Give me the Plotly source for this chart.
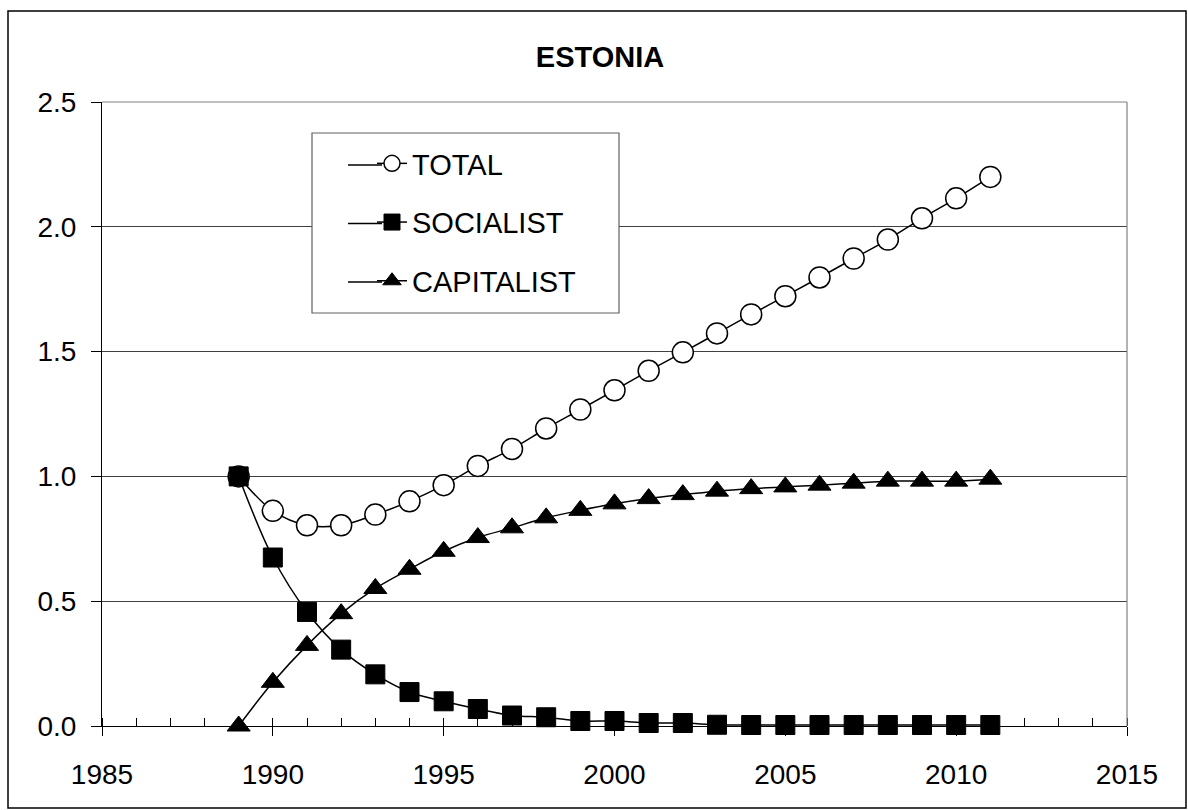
import plotly.graph_objects as go

years = list(range(1989, 2012))
total = [1.000, 0.862, 0.804, 0.804, 0.847, 0.900, 0.965, 1.042, 1.110, 1.192, 1.268, 1.345,
         1.423, 1.497, 1.573, 1.649, 1.722, 1.797, 1.873, 1.949, 2.034, 2.114, 2.200]
socialist = [1.000, 0.675, 0.457, 0.306, 0.207, 0.136, 0.099, 0.068, 0.042, 0.035, 0.020, 0.020,
             0.012, 0.012, 0.005, 0.004, 0.004, 0.004, 0.004, 0.004, 0.004, 0.004, 0.004]
capitalist = [0.000, 0.175, 0.323, 0.450, 0.551, 0.628, 0.700, 0.755, 0.794, 0.834, 0.864, 0.890,
              0.911, 0.927, 0.941, 0.951, 0.958, 0.965, 0.973, 0.981, 0.981, 0.981, 0.989]
x_ticks = [1985, 1990, 1995, 2000, 2005, 2010, 2015]
y_ticks = [0.0, 0.5, 1.0, 1.5, 2.0, 2.5]

W, H = 1188, 810
L, R, T, B = 102, 1127, 102, 726
FONT = "Liberation Sans, Arial, sans-serif"


def px_x(p):
    return (p - L) / (R - L)


def px_y(p):
    return (B - p) / (B - T)


fig = go.Figure()
line_style = dict(color="black", width=1.5, shape="spline", smoothing=1)
fig.add_trace(go.Scatter(
    x=years, y=total, name="TOTAL", mode="lines+markers", legendgroup="g1",
    line=line_style,
    marker=dict(symbol="circle", size=21, color="white", line=dict(color="black", width=1.5)),
    cliponaxis=False))
fig.add_trace(go.Scatter(
    x=years, y=socialist, name="SOCIALIST", mode="lines+markers", legendgroup="g2",
    line=line_style,
    marker=dict(symbol="square", size=19, color="black", line=dict(color="black", width=1)),
    cliponaxis=False))
fig.add_trace(go.Scatter(
    x=years, y=capitalist, name="CAPITALIST", mode="lines+markers", legendgroup="g3",
    line=line_style,
    marker=dict(symbol="triangle-up", size=20, color="black", line=dict(color="black", width=1)),
    cliponaxis=False))

shapes = [
    # outer chart border
    dict(type="rect", xref="paper", yref="paper", x0=px_x(8), x1=px_x(1186), y0=px_y(808), y1=px_y(11),
         line=dict(color="black", width=1.5), layer="below"),
    # plot area top and right border
    dict(type="line", xref="paper", yref="paper", x0=0, x1=1, y0=1, y1=1,
         line=dict(color="#808080", width=1.2), layer="above"),
    dict(type="line", xref="paper", yref="paper", x0=1, x1=1, y0=0, y1=1,
         line=dict(color="#808080", width=1.2), layer="above"),
    # legend box
    dict(type="rect", xref="paper", yref="paper", x0=px_x(312), x1=px_x(619), y0=px_y(313), y1=px_y(133),
         line=dict(color="#606060", width=1.2), fillcolor="white", layer="above"),
]
# longer legend key lines (left extension of the legend symbol line)
for ky in (165, 223.5, 282):
    shapes.append(dict(type="line", xref="paper", yref="paper", x0=px_x(348), x1=px_x(382),
                       y0=px_y(ky), y1=px_y(ky), line=dict(color="black", width=1.5), layer="above"))

fig.update_layout(
    width=W, height=H,
    margin=dict(l=L, r=W - R, t=T, b=H - B, pad=0),
    paper_bgcolor="white", plot_bgcolor="white",
    font=dict(family=FONT, color="black", size=28),
    title=dict(text="<b>ESTONIA</b>", xref="paper", x=px_x(600), xanchor="center",
               yref="container", y=1 - 56.5 / H, yanchor="middle",
               font=dict(family=FONT, size=29, color="black")),
    xaxis=dict(range=[1985, 2015], tickvals=x_ticks, ticktext=[str(v) for v in x_ticks],
               showgrid=False, zeroline=False, showline=True, linecolor="black", linewidth=1,
               ticks="outside", ticklen=9, tickcolor="black", tickwidth=1,
               tickfont=dict(family=FONT, size=28, color="black"), ticklabelstandoff=14,
               minor=dict(ticks="inside", ticklen=8, dtick=1, tick0=1985, tickcolor="black",
                          tickwidth=1, showgrid=False)),
    xaxis2=dict(range=[1985, 2015], overlaying="x", anchor="y", side="bottom",
                tickvals=x_ticks, showticklabels=False, ticks="inside", ticklen=9,
                tickcolor="black", tickwidth=1, showgrid=False, showline=False, zeroline=False),
    yaxis=dict(range=[0, 2.5], tickvals=y_ticks, tickformat=".1f",
               showgrid=True, gridcolor="#404040", gridwidth=1, zeroline=False,
               showline=True, linecolor="black", linewidth=1,
               ticks="outside", ticklen=10, tickcolor="black", tickwidth=1,
               tickfont=dict(family=FONT, size=28, color="black"), ticklabelstandoff=9),
    legend=dict(x=px_x(372), y=px_y(138), xanchor="left", yanchor="top",
                bgcolor="rgba(0,0,0,0)", borderwidth=0,
                font=dict(family=FONT, size=29, color="black"),
                tracegroupgap=18, itemwidth=30),
    showlegend=True,
    shapes=shapes,
)

fig.write_html(
    "out.html",
    config={"displayModeBar": False},
    post_script="document.body.style.margin='0px';document.body.style.overflow='hidden';",
)
